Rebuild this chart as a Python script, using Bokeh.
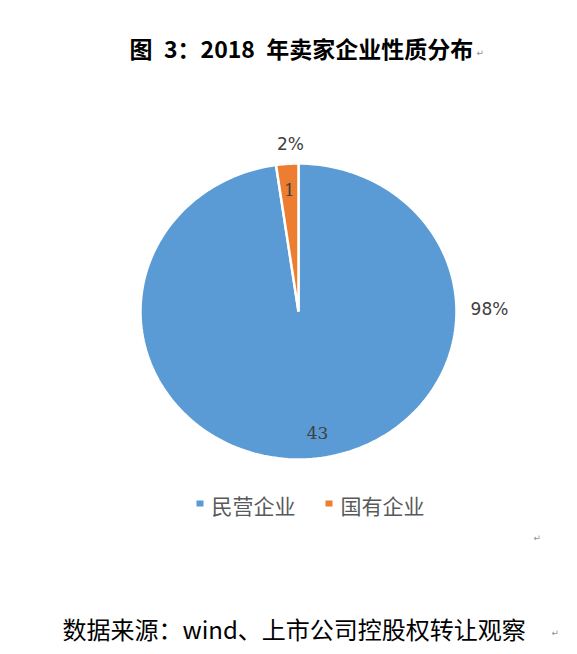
import numpy as np
from bokeh.plotting import figure
from bokeh.models import Range1d, ColumnDataSource
from bokeh.core.properties import value
from bokeh.embed import file_html
from bokeh.resources import INLINE

# data
categories = ['民营企业', '国有企业']
counts = [43, 1]
colors = ['#5B9BD5', '#ED7D31']
title_text = '图\u20023：2018\u2002年卖家企业性质分布'
source_text = '数据来源：wind、上市公司控股权转让观察'

W, H = 569, 646
CJK = value("Noto Sans CJK SC")

# page pixel coords -> data: x same, y = 654 - y_img
def Y(y_img):
    return 654 - y_img

p = figure(width=W, height=H, x_range=Range1d(0, W), y_range=Range1d(654 - H, 654),
           x_axis_type=None, y_axis_type=None, output_backend="svg",
           toolbar_location=None, min_border=0)
p.grid.visible = False
p.outline_line_color = None
p.background_fill_color = 'white'

# pie (slightly wider than tall, as in the reference)
cx, cy = 298, Y(311)
rx, ry = 158, 148
total = sum(counts)
fracs = np.array(counts) / total
starts = np.pi / 2 - 2 * np.pi * np.concatenate([[0], np.cumsum(fracs)[:-1]])
ends = starts - 2 * np.pi * fracs

xs, ys = [], []
for a0, a1 in zip(starts, ends):
    t = np.linspace(a0, a1, 200)
    xs.append(list(np.concatenate([[cx], cx + rx * np.cos(t)])))
    ys.append(list(np.concatenate([[cy], cy + ry * np.sin(t)])))
p.patches(xs, ys, fill_color=colors, line_color='white', line_width=2.5)

# value labels inside the slices
mids = (starts + ends) / 2
inner = ColumnDataSource(dict(
    x=list(cx + 0.8 * rx * np.cos(mids) + np.array([10, 0])),
    y=list(cy + 0.82 * ry * np.sin(mids)),
    t=[str(c) for c in counts]))
p.text('x', 'y', text='t', source=inner, text_font=value("DejaVu Serif"),
       text_font_size='17px', text_color='#404040', text_align='center',
       text_baseline='middle')

# percentage labels outside
pct = ['%d%%' % round(f * 100) for f in fracs]
outer = ColumnDataSource(dict(x=[489, 290], y=[Y(308), Y(143)], t=pct))
p.text('x', 'y', text='t', source=outer, text_font=value("DejaVu Sans"),
       text_font_size='17px', text_color='#404040', text_align='center',
       text_baseline='middle')

# legend
leg_x = [196, 325]
p.rect([x + 3.5 for x in leg_x], [Y(503)] * 2, width=7, height=6,
       fill_color=colors, line_color=None)
p.text([x + 15 for x in leg_x], [Y(504)] * 2, text=categories, text_font=CJK,
       text_font_size='21px', text_color='#595959', text_baseline='middle')

# title and source
p.text([129], [Y(47)], text=[title_text], text_font=CJK, text_font_size='23px',
       text_font_style='bold', text_color='black', text_baseline='middle')
p.text([476], [Y(52)], text=['↵'], text_font=value("DejaVu Sans"),
       text_font_size='9px', text_color='#909090', text_baseline='middle')
p.text([62], [Y(628)], text=[source_text], text_font=CJK, text_font_size='24px',
       text_color='black', text_baseline='middle')
p.text([551], [Y(632)], text=['↵'], text_font=value("DejaVu Sans"),
       text_font_size='9px', text_color='#909090', text_baseline='middle')
p.text([533], [Y(537)], text=['↵'], text_font=value("DejaVu Sans"),
       text_font_size='9px', text_color='#909090', text_baseline='middle')

open("out.html", "w").write(file_html(p, INLINE))
